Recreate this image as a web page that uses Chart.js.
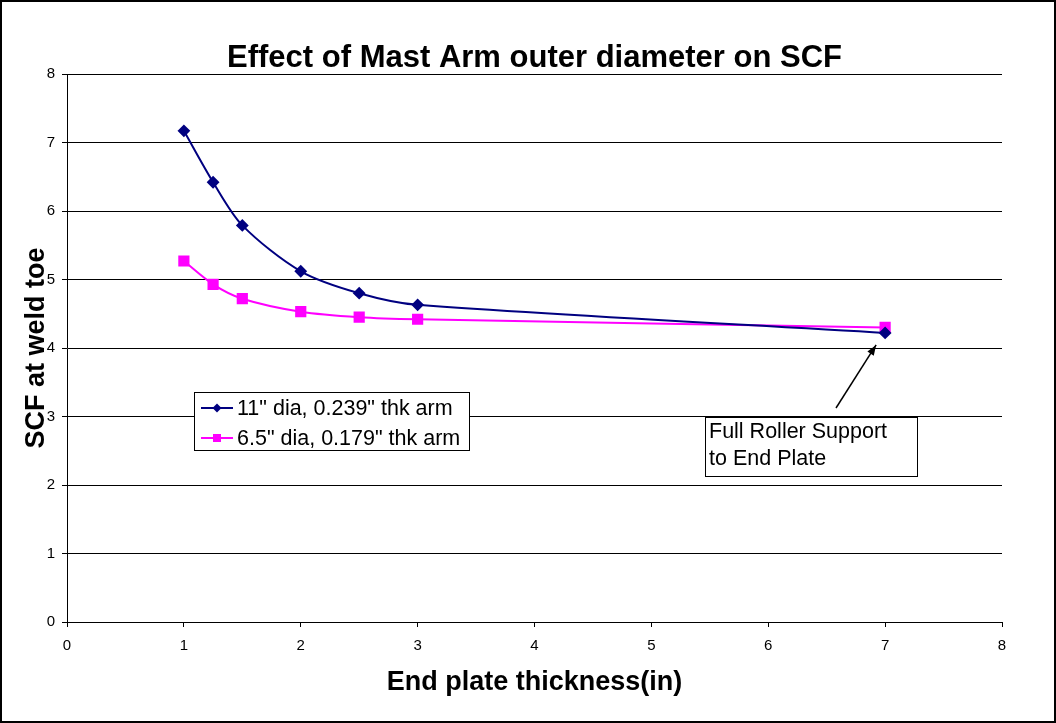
<!DOCTYPE html>
<html>
<head>
<meta charset="utf-8">
<script src="https://cdn.jsdelivr.net/npm/chart.js@4"></script>
<style>
  body { margin: 0; background: #fff; }
  #wrap { width: 1056px; height: 723px; }
</style>
</head>
<body>
<div id="wrap"><canvas id="myChart" width="1056" height="723"></canvas></div>
<script>
// data
var thickness = [1, 1.25, 1.5, 2, 2.5, 3, 7];
var scfLarge = [7.17, 6.42, 5.79, 5.12, 4.80, 4.63, 4.22];
var scfSmall = [5.27, 4.93, 4.72, 4.53, 4.45, 4.42, 4.30];
var seriesNames = ['11" dia, 0.239" thk arm', '6.5" dia, 0.179" thk arm'];
var noteLines = ['Full Roller Support', 'to End Plate'];

var FONT = 'Liberation Sans, Arial, sans-serif';

function toPoints(xs, ys) {
    var pts = [];
    for (var i = 0; i < xs.length; i++) {
        pts.push({x: xs[i], y: ys[i]});
    }
    return pts;
}

// outer frame, legend box and the callout
var extras = {
    id: 'extras',
    afterDraw: function(chart) {
        var ctx = chart.ctx;
        var ds = chart.data.datasets;
        ctx.save();

        // legend
        ctx.fillStyle = '#fff';
        ctx.fillRect(194, 392, 275, 58);
        ctx.strokeStyle = '#000';
        ctx.lineWidth = 1;
        ctx.strokeRect(194.5, 392.5, 275, 58);
        ctx.font = '21.5px ' + FONT;
        ctx.textBaseline = 'middle';
        for (var i = 0; i < ds.length; i++) {
            var y = 408 + i * 30;
            ctx.strokeStyle = ds[i].borderColor;
            ctx.lineWidth = 2;
            ctx.beginPath();
            ctx.moveTo(201, y);
            ctx.lineTo(233, y);
            ctx.stroke();
            ctx.fillStyle = ds[i].borderColor;
            ctx.beginPath();
            if (ds[i].pointStyle === 'rectRot') {
                ctx.moveTo(217, y - 4.5);
                ctx.lineTo(221.5, y);
                ctx.lineTo(217, y + 4.5);
                ctx.lineTo(212.5, y);
                ctx.closePath();
            } else {
                ctx.rect(213, y - 4, 8, 8);
            }
            ctx.fill();
            ctx.fillStyle = '#000';
            ctx.fillText(ds[i].label, 237, y + 1);
        }

        // callout box with arrow
        var xs = chart.scales.x, ys = chart.scales.y;
        var px = xs.getPixelForValue(thickness[6]);
        var py = ys.getPixelForValue(scfLarge[6]);
        var tipX = px - 9, tipY = py + 12;
        var tailX = 836, tailY = 408;
        ctx.strokeStyle = '#000';
        ctx.fillStyle = '#000';
        ctx.lineWidth = 1.5;
        ctx.beginPath();
        ctx.moveTo(tailX, tailY);
        ctx.lineTo(tipX, tipY);
        ctx.stroke();
        var ang = Math.atan2(tipY - tailY, tipX - tailX);
        ctx.beginPath();
        ctx.moveTo(tipX, tipY);
        ctx.lineTo(tipX - 11 * Math.cos(ang - 0.35), tipY - 11 * Math.sin(ang - 0.35));
        ctx.lineTo(tipX - 11 * Math.cos(ang + 0.35), tipY - 11 * Math.sin(ang + 0.35));
        ctx.closePath();
        ctx.fill();

        ctx.fillStyle = '#fff';
        ctx.fillRect(705, 417, 212, 59);
        ctx.lineWidth = 1;
        ctx.strokeStyle = '#000';
        ctx.strokeRect(705.5, 417.5, 212, 59);
        ctx.fillStyle = '#000';
        ctx.font = '21.5px ' + FONT;
        ctx.textBaseline = 'middle';
        ctx.fillText(noteLines[0], 709, 432);
        ctx.fillText(noteLines[1], 709, 459);

        // frame around the whole picture
        ctx.lineWidth = 2;
        ctx.strokeRect(1, 1, 1054, 721);
        ctx.restore();
    }
};

new Chart(document.getElementById('myChart'), {
    type: 'line',
    data: {
        datasets: [{
            label: seriesNames[0],
            data: toPoints(thickness, scfLarge),
            borderColor: '#000080',
            backgroundColor: '#000080',
            borderWidth: 2,
            pointStyle: 'rectRot',
            pointRadius: 5,
            tension: 0.3
        }, {
            label: seriesNames[1],
            data: toPoints(thickness, scfSmall),
            borderColor: '#FF00FF',
            backgroundColor: '#FF00FF',
            borderWidth: 2,
            pointStyle: 'rect',
            pointRadius: 6.5,
            tension: 0.3
        }]
    },
    options: {
        responsive: false,
        animation: false,
        devicePixelRatio: 1,
        layout: { padding: { left: 0, right: 54, top: 0, bottom: 0 } },
        plugins: {
            legend: { display: false },
            tooltip: { enabled: false },
            title: {
                display: true,
                fullSize: false,
                text: 'Effect of Mast Arm outer diameter on SCF',
                color: '#000',
                font: { family: FONT, size: 31, weight: 'bold', lineHeight: 1 },
                padding: { top: 42.5, bottom: 0.5 }
            }
        },
        scales: {
            x: {
                type: 'linear',
                min: 0,
                max: 8,
                afterFit: function(s) { s.height = 101; },
                ticks: { stepSize: 1, color: '#000', padding: 10, font: { family: FONT, size: 15 } },
                grid: { drawOnChartArea: false, drawTicks: true, tickLength: 5, color: '#000' },
                border: { display: true, color: '#000', width: 1 },
                title: {
                    display: true,
                    text: 'End plate thickness(in)',
                    color: '#000',
                    font: { family: FONT, size: 27, weight: 'bold' },
                    padding: { top: 0, bottom: 23.8 }
                }
            },
            y: {
                min: 0,
                max: 8,
                afterFit: function(s) { s.width = 67; },
                ticks: { stepSize: 1, color: '#000', padding: 7, font: { family: FONT, size: 15 } },
                grid: { drawOnChartArea: true, drawTicks: true, tickLength: 5, color: '#000' },
                border: { display: true, color: '#000', width: 1 },
                title: {
                    display: true,
                    text: 'SCF at weld toe',
                    color: '#000',
                    font: { family: FONT, size: 27, weight: 'bold' },
                    padding: { top: 20.8, bottom: 0 }
                }
            }
        }
    },
    plugins: [extras]
});
</script>
</body>
</html>
